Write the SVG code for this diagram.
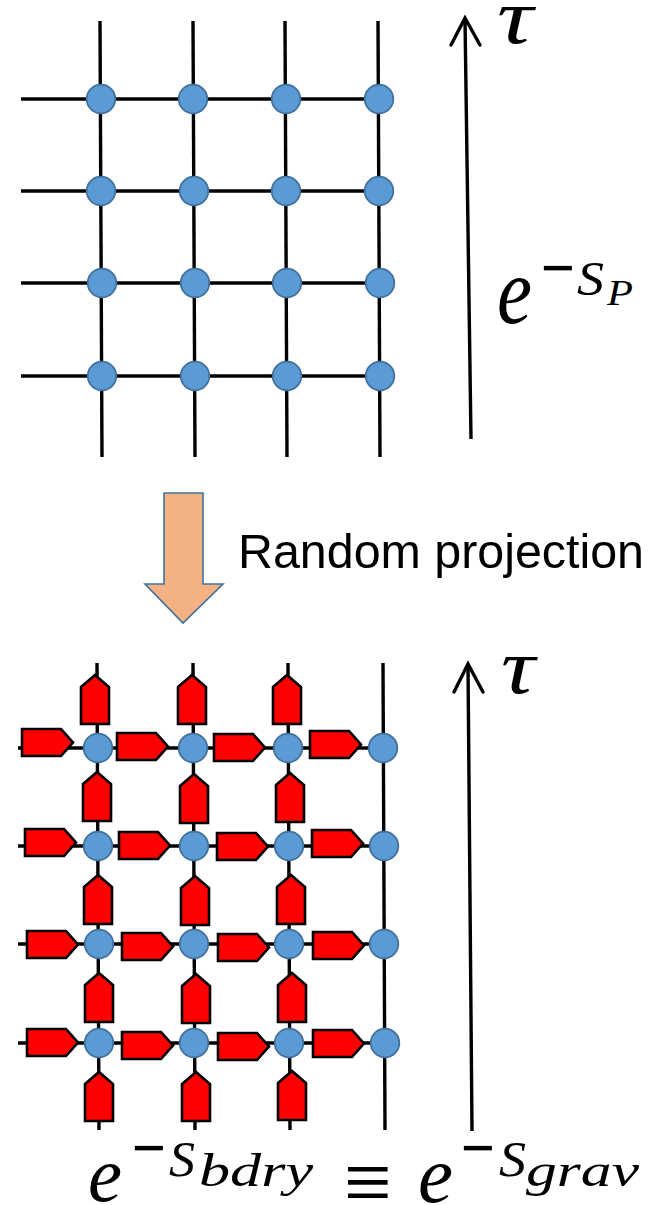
<svg xmlns="http://www.w3.org/2000/svg" xmlns:xlink="http://www.w3.org/1999/xlink" width="658" height="1205" viewBox="0 0 658 1205">
<defs>
<style>
.ln{stroke:#000;stroke-width:3.4;fill:none}
.nd{fill:#5b9bd5;stroke:#41719c;stroke-width:1.8}
.pt{fill:#ff0000;stroke:#000;stroke-width:2.6;stroke-linejoin:miter}
.mi{font-family:"Liberation Serif","DejaVu Serif",serif;font-style:italic;fill:#000}
.mr{font-family:"Liberation Serif","DejaVu Serif",serif;fill:#000}
.tx{font-family:"Liberation Sans",Arial,sans-serif;fill:#000}
</style>
<path id="hp" class="pt" d="M0,0 H39 L51,13.5 L39,27 H0 Z"/>
<path id="vp" class="pt" d="M0,12 L14,0 L28,12 V49 H0 Z"/>
</defs>
<rect width="658" height="1205" fill="#fff"/>

<g id="connectors">
  <line class="ln" x1="100" y1="21" x2="102" y2="457"/>
  <line class="ln" x1="193" y1="21" x2="195" y2="457"/>
  <line class="ln" x1="285" y1="21" x2="287" y2="457"/>
  <line class="ln" x1="378" y1="21" x2="380" y2="457"/>
  <line class="ln" x1="21" y1="99" x2="379" y2="99"/>
  <line class="ln" x1="21" y1="191" x2="379" y2="191"/>
  <line class="ln" x1="21" y1="283" x2="380" y2="283"/>
  <line class="ln" x1="21" y1="376" x2="380" y2="376"/>
  <line class="ln" x1="97" y1="663" x2="99" y2="1130"/>
  <line class="ln" x1="193" y1="663" x2="195" y2="1130"/>
  <line class="ln" x1="288" y1="663" x2="290" y2="1130"/>
  <line class="ln" x1="383" y1="663" x2="385" y2="1130"/>
  <line class="ln" x1="18" y1="748" x2="384" y2="748"/>
  <line class="ln" x1="18" y1="846" x2="384" y2="846"/>
  <line class="ln" x1="18" y1="944" x2="385" y2="944"/>
  <line class="ln" x1="18" y1="1043" x2="385" y2="1043"/>
  <line class="ln" stroke-width="3.6" x1="471" y1="439" x2="465" y2="19"/>
  <polyline class="ln" stroke-width="3.6" stroke-linecap="round" points="451,45 465,18 480,45"/>
  <line class="ln" stroke-width="3.6" x1="472" y1="1131" x2="468" y2="665"/>
  <polyline class="ln" stroke-width="3.6" stroke-linecap="round" points="454,692 468,664 483,692"/>
</g>

<g id="projection-arrow">
  <polygon points="164,493 203,493 203,584 223,584 183,623 145,584 164,584" fill="#f4b183" stroke="#41719c" stroke-width="1.6"/>
  <text class="tx" x="238" y="568" font-size="48" textLength="406" lengthAdjust="spacingAndGlyphs">Random projection</text>
</g>

<g id="top-nodes">
  <g id="t11"><circle class="nd" cx="101" cy="99" r="14.3"/></g>
  <g id="t12"><circle class="nd" cx="193" cy="99" r="14.3"/></g>
  <g id="t13"><circle class="nd" cx="286" cy="99" r="14.3"/></g>
  <g id="t14"><circle class="nd" cx="379" cy="99" r="14.3"/></g>
  <g id="t21"><circle class="nd" cx="101" cy="191" r="14.3"/></g>
  <g id="t22"><circle class="nd" cx="194" cy="191" r="14.3"/></g>
  <g id="t23"><circle class="nd" cx="286" cy="191" r="14.3"/></g>
  <g id="t24"><circle class="nd" cx="379" cy="191" r="14.3"/></g>
  <g id="t31"><circle class="nd" cx="102" cy="283" r="14.3"/></g>
  <g id="t32"><circle class="nd" cx="195" cy="283" r="14.3"/></g>
  <g id="t33"><circle class="nd" cx="287" cy="283" r="14.3"/></g>
  <g id="t34"><circle class="nd" cx="380" cy="283" r="14.3"/></g>
  <g id="t41"><circle class="nd" cx="102" cy="376" r="14.3"/></g>
  <g id="t42"><circle class="nd" cx="195" cy="376" r="14.3"/></g>
  <g id="t43"><circle class="nd" cx="287" cy="376" r="14.3"/></g>
  <g id="t44"><circle class="nd" cx="380" cy="376" r="14.3"/></g>
</g>

<g id="projectors-horizontal">
  <use href="#hp" x="22" y="729"/><use href="#hp" x="117" y="733"/><use href="#hp" x="214" y="734"/><use href="#hp" x="310" y="731"/>
  <use href="#hp" x="25" y="829"/><use href="#hp" x="119" y="832"/><use href="#hp" x="217" y="833"/><use href="#hp" x="312" y="830"/>
  <use href="#hp" x="27" y="931"/><use href="#hp" x="122" y="933"/><use href="#hp" x="218" y="934"/><use href="#hp" x="313" y="932"/>
  <use href="#hp" x="27" y="1029"/><use href="#hp" x="122" y="1032"/><use href="#hp" x="218" y="1033"/><use href="#hp" x="313" y="1030"/>
</g>
<g id="projectors-vertical">
  <use href="#vp" x="81" y="675"/><use href="#vp" x="83" y="772"/><use href="#vp" x="84" y="875"/><use href="#vp" x="85" y="973"/><use href="#vp" x="85" y="1072"/>
  <use href="#vp" x="178" y="675"/><use href="#vp" x="180" y="774"/><use href="#vp" x="181" y="876"/><use href="#vp" x="182" y="974"/><use href="#vp" x="182" y="1072"/>
  <use href="#vp" x="273" y="675"/><use href="#vp" x="276" y="773"/><use href="#vp" x="277" y="875"/><use href="#vp" x="278" y="973"/><use href="#vp" x="278" y="1071"/>
</g>

<g id="bottom-nodes">
  <g id="b11"><circle class="nd" cx="98" cy="748" r="14.3"/></g>
  <g id="b12"><circle class="nd" cx="193" cy="748" r="14.3"/></g>
  <g id="b13"><circle class="nd" cx="288" cy="748" r="14.3"/></g>
  <g id="b14"><circle class="nd" cx="383" cy="748" r="14.3"/></g>
  <g id="b21"><circle class="nd" cx="98" cy="846" r="14.3"/></g>
  <g id="b22"><circle class="nd" cx="194" cy="846" r="14.3"/></g>
  <g id="b23"><circle class="nd" cx="289" cy="846" r="14.3"/></g>
  <g id="b24"><circle class="nd" cx="384" cy="846" r="14.3"/></g>
  <g id="b31"><circle class="nd" cx="99" cy="944" r="14.3"/></g>
  <g id="b32"><circle class="nd" cx="194" cy="944" r="14.3"/></g>
  <g id="b33"><circle class="nd" cx="289" cy="944" r="14.3"/></g>
  <g id="b34"><circle class="nd" cx="384" cy="944" r="14.3"/></g>
  <g id="b41"><circle class="nd" cx="99" cy="1043" r="14.3"/></g>
  <g id="b42"><circle class="nd" cx="194" cy="1043" r="14.3"/></g>
  <g id="b43"><circle class="nd" cx="289" cy="1043" r="14.3"/></g>
  <g id="b44"><circle class="nd" cx="385" cy="1043" r="14.3"/></g>
</g>

<g id="labels">
  <text class="mi" x="497" y="43" font-size="78" textLength="36" lengthAdjust="spacingAndGlyphs">τ</text>
  <text class="mi" x="501" y="693" font-size="78" textLength="34" lengthAdjust="spacingAndGlyphs">τ</text>

  <text class="mi" x="497" y="323" font-size="96" textLength="35" lengthAdjust="spacingAndGlyphs">e</text>
  <text class="mr" x="541" y="298" font-size="90" textLength="34" lengthAdjust="spacingAndGlyphs">−</text>
  <text class="mi" x="577" y="295" font-size="48" textLength="27" lengthAdjust="spacingAndGlyphs">S</text>
  <text class="mi" x="607" y="305" font-size="35" textLength="26" lengthAdjust="spacingAndGlyphs">P</text>

  <text class="mi" x="88" y="1201" font-size="78" textLength="34" lengthAdjust="spacingAndGlyphs">e</text>
  <text class="mr" x="132" y="1178" font-size="90" textLength="34" lengthAdjust="spacingAndGlyphs">−</text>
  <text class="mi" x="169" y="1176" font-size="50" textLength="26" lengthAdjust="spacingAndGlyphs">S</text>
  <text class="mi" x="199" y="1186" font-size="46" textLength="114" lengthAdjust="spacingAndGlyphs">bdry</text>
  <text class="mr" x="344" y="1213" font-size="92" textLength="48" lengthAdjust="spacingAndGlyphs">≡</text>
  <text class="mi" x="418" y="1202" font-size="80" textLength="35" lengthAdjust="spacingAndGlyphs">e</text>
  <text class="mr" x="461" y="1178" font-size="90" textLength="34" lengthAdjust="spacingAndGlyphs">−</text>
  <text class="mi" x="499" y="1176" font-size="50" textLength="27" lengthAdjust="spacingAndGlyphs">S</text>
  <text class="mi" x="526" y="1186" font-size="46" textLength="113" lengthAdjust="spacingAndGlyphs">grav</text>
</g>
</svg>
